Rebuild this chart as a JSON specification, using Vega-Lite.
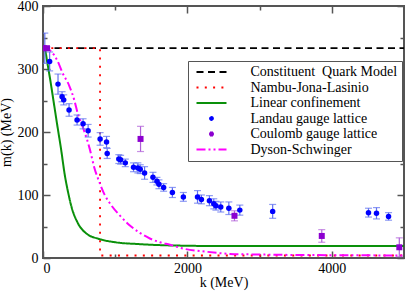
{
  "$schema": "https://vega.github.io/schema/vega-lite/v6.json",
  "width": 361,
  "height": 252,
  "autosize": {"type": "none"},
  "padding": {"left": 43, "top": 6, "right": 2, "bottom": 33},
  "background": "white",
  "datasets": {
    "steps": [
      {"series": "Constituent\u00a0 Quark Model", "k": 0, "m": 333, "i": 0},
      {"series": "Constituent\u00a0 Quark Model", "k": 5000, "m": 333, "i": 1},
      {"series": "Nambu-Jona-Lasinio", "k": 0, "m": 333, "i": 0},
      {"series": "Nambu-Jona-Lasinio", "k": 790, "m": 333, "i": 1},
      {"series": "Nambu-Jona-Lasinio", "k": 790, "m": 4, "i": 2},
      {"series": "Nambu-Jona-Lasinio", "k": 5000, "m": 4, "i": 3}
    ],
    "curves": [
      {"series": "Linear confinement", "k": 0, "m": 335},
      {"series": "Linear confinement", "k": 30, "m": 330},
      {"series": "Linear confinement", "k": 60, "m": 310},
      {"series": "Linear confinement", "k": 100, "m": 283},
      {"series": "Linear confinement", "k": 150, "m": 246},
      {"series": "Linear confinement", "k": 200, "m": 209},
      {"series": "Linear confinement", "k": 250, "m": 173},
      {"series": "Linear confinement", "k": 300, "m": 133},
      {"series": "Linear confinement", "k": 350, "m": 103},
      {"series": "Linear confinement", "k": 400, "m": 79},
      {"series": "Linear confinement", "k": 480, "m": 56},
      {"series": "Linear confinement", "k": 600, "m": 39},
      {"series": "Linear confinement", "k": 785, "m": 30},
      {"series": "Linear confinement", "k": 1000, "m": 25},
      {"series": "Linear confinement", "k": 1340, "m": 22},
      {"series": "Linear confinement", "k": 1750, "m": 20},
      {"series": "Linear confinement", "k": 2500, "m": 19},
      {"series": "Linear confinement", "k": 5000, "m": 19},
      {"series": "Dyson-Schwinger", "k": 0, "m": 333},
      {"series": "Dyson-Schwinger", "k": 60, "m": 332},
      {"series": "Dyson-Schwinger", "k": 120, "m": 327},
      {"series": "Dyson-Schwinger", "k": 200, "m": 313},
      {"series": "Dyson-Schwinger", "k": 270, "m": 294},
      {"series": "Dyson-Schwinger", "k": 365, "m": 273},
      {"series": "Dyson-Schwinger", "k": 435, "m": 250},
      {"series": "Dyson-Schwinger", "k": 480, "m": 230},
      {"series": "Dyson-Schwinger", "k": 560, "m": 205},
      {"series": "Dyson-Schwinger", "k": 610, "m": 188},
      {"series": "Dyson-Schwinger", "k": 650, "m": 172},
      {"series": "Dyson-Schwinger", "k": 712, "m": 143},
      {"series": "Dyson-Schwinger", "k": 782, "m": 120},
      {"series": "Dyson-Schwinger", "k": 851, "m": 101},
      {"series": "Dyson-Schwinger", "k": 944, "m": 84},
      {"series": "Dyson-Schwinger", "k": 1060, "m": 68},
      {"series": "Dyson-Schwinger", "k": 1199, "m": 52},
      {"series": "Dyson-Schwinger", "k": 1340, "m": 40},
      {"series": "Dyson-Schwinger", "k": 1480, "m": 31},
      {"series": "Dyson-Schwinger", "k": 1620, "m": 25},
      {"series": "Dyson-Schwinger", "k": 1760, "m": 21},
      {"series": "Dyson-Schwinger", "k": 1940, "m": 15},
      {"series": "Dyson-Schwinger", "k": 2260, "m": 10},
      {"series": "Dyson-Schwinger", "k": 2590, "m": 6.5},
      {"series": "Dyson-Schwinger", "k": 3000, "m": 5.5},
      {"series": "Dyson-Schwinger", "k": 4000, "m": 4.5},
      {"series": "Dyson-Schwinger", "k": 5000, "m": 4}
    ],
    "landau": [
      {"series": "Landau gauge lattice", "k": 25, "m": 333, "err": 24},
      {"series": "Landau gauge lattice", "k": 92, "m": 312, "err": 15},
      {"series": "Landau gauge lattice", "k": 208, "m": 276, "err": 16},
      {"series": "Landau gauge lattice", "k": 264, "m": 256, "err": 8},
      {"series": "Landau gauge lattice", "k": 287, "m": 251, "err": 8},
      {"series": "Landau gauge lattice", "k": 361, "m": 235, "err": 10},
      {"series": "Landau gauge lattice", "k": 472, "m": 219, "err": 8},
      {"series": "Landau gauge lattice", "k": 555, "m": 213, "err": 8},
      {"series": "Landau gauge lattice", "k": 625, "m": 202, "err": 10},
      {"series": "Landau gauge lattice", "k": 791, "m": 189, "err": 10},
      {"series": "Landau gauge lattice", "k": 880, "m": 184, "err": 9},
      {"series": "Landau gauge lattice", "k": 889, "m": 166, "err": 8},
      {"series": "Landau gauge lattice", "k": 1050, "m": 157, "err": 7},
      {"series": "Landau gauge lattice", "k": 1075, "m": 156, "err": 7},
      {"series": "Landau gauge lattice", "k": 1140, "m": 151, "err": 6},
      {"series": "Landau gauge lattice", "k": 1254, "m": 144, "err": 7},
      {"series": "Landau gauge lattice", "k": 1314, "m": 143, "err": 8},
      {"series": "Landau gauge lattice", "k": 1347, "m": 141, "err": 7},
      {"series": "Landau gauge lattice", "k": 1407, "m": 135, "err": 10},
      {"series": "Landau gauge lattice", "k": 1523, "m": 128, "err": 8},
      {"series": "Landau gauge lattice", "k": 1578, "m": 122, "err": 6},
      {"series": "Landau gauge lattice", "k": 1606, "m": 117, "err": 7},
      {"series": "Landau gauge lattice", "k": 1671, "m": 112, "err": 6},
      {"series": "Landau gauge lattice", "k": 1792, "m": 104, "err": 8},
      {"series": "Landau gauge lattice", "k": 1944, "m": 97, "err": 7},
      {"series": "Landau gauge lattice", "k": 2140, "m": 97, "err": 10},
      {"series": "Landau gauge lattice", "k": 2194, "m": 93, "err": 7},
      {"series": "Landau gauge lattice", "k": 2305, "m": 91, "err": 8},
      {"series": "Landau gauge lattice", "k": 2365, "m": 86, "err": 8},
      {"series": "Landau gauge lattice", "k": 2395, "m": 83, "err": 7},
      {"series": "Landau gauge lattice", "k": 2462, "m": 81, "err": 8},
      {"series": "Landau gauge lattice", "k": 2574, "m": 79, "err": 10},
      {"series": "Landau gauge lattice", "k": 2726, "m": 76, "err": 8},
      {"series": "Landau gauge lattice", "k": 3181, "m": 74, "err": 11},
      {"series": "Landau gauge lattice", "k": 4508, "m": 72, "err": 7},
      {"series": "Landau gauge lattice", "k": 4619, "m": 71, "err": 9},
      {"series": "Landau gauge lattice", "k": 4786, "m": 66, "err": 6}
    ],
    "coulomb": [
      {"series": "Coulomb gauge lattice", "k": 10, "m": 333, "err": 2},
      {"series": "Coulomb gauge lattice", "k": 55, "m": 333, "err": 2},
      {"series": "Coulomb gauge lattice", "k": 1351, "m": 189, "err": 20},
      {"series": "Coulomb gauge lattice", "k": 2652, "m": 67, "err": 8},
      {"series": "Coulomb gauge lattice", "k": 3861, "m": 35, "err": 10},
      {"series": "Coulomb gauge lattice", "k": 4935, "m": 17, "err": 15}
    ]
  },
  "config": {
    "font": "Liberation Serif, serif",
    "view": {"stroke": "#555555", "strokeWidth": 2},
    "axis": {
      "grid": false, "domain": false,
      "labelFont": "Liberation Serif, serif", "labelFontSize": 14, "labelColor": "#000000",
      "titleFont": "Liberation Serif, serif", "titleFontSize": 14, "titleFontWeight": "normal", "titleColor": "#000000",
      "tickColor": "#555555", "tickWidth": 1.5
    },
    "legend": {
      "labelFont": "Liberation Serif, serif", "labelFontSize": 14, "labelColor": "#000000"
    }
  },
  "resolve": {"axis": {"x": "independent", "y": "independent"}},
  "layer": [
    {
      "data": {"name": "steps"},
      "mark": {"type": "line", "strokeWidth": 1.8, "clip": true},
      "encoding": {
        "x": {"field": "k", "type": "quantitative", "scale": {"domain": [0, 5000], "nice": false},
              "axis": {"orient": "bottom", "values": [0, 2000, 4000], "format": "d", "tickSize": -7, "labelPadding": 10, "title": "k (MeV)", "titlePadding": 0}},
        "y": {"field": "m", "type": "quantitative", "scale": {"domain": [0, 400], "nice": false},
              "axis": {"orient": "left", "values": [0, 100, 200, 300, 400], "format": "d", "tickSize": -7, "labelPadding": 12, "title": "m(k) (MeV)", "titlePadding": 4}},
        "color": {"field": "series", "type": "nominal",
                  "scale": {"domain": ["Constituent\u00a0 Quark Model", "Nambu-Jona-Lasinio", "Linear confinement", "Landau gauge lattice", "Coulomb gauge lattice", "Dyson-Schwinger"],
                            "range": ["#000000", "#ff0000", "#0a900a", "#0000ff", "#8c00d0", "#ff00ff"]},
                  "legend": {"title": null, "orient": "none", "legendX": 145, "legendY": 55,
                             "strokeColor": "#555555", "fillColor": "#ffffff", "padding": 4, "rowPadding": 1.5,
                             "symbolOffset": 12.5, "labelOffset": 32,
                             "labelFont": "Liberation Serif, serif", "labelFontSize": 14,
                             "encode": {"symbols": {"update": {
                               "shape": {"scale": "shape", "field": "value"},
                               "stroke": {"scale": "color", "field": "value"},
                               "fill": {"scale": "color", "field": "value"},
                               "strokeDash": {"scale": "strokeDash", "field": "value"},
                               "strokeWidth": {"value": 1.8},
                               "size": {"value": 9},
                               "opacity": {"value": 1}}}}}},
        "strokeDash": {"field": "series", "type": "nominal",
                       "scale": {"domain": ["Constituent\u00a0 Quark Model", "Nambu-Jona-Lasinio", "Linear confinement", "Landau gauge lattice", "Coulomb gauge lattice", "Dyson-Schwinger"],
                                 "range": [[7, 4.5], [2, 6.3], [1, 0], [1, 0], [1, 0], [9, 3, 2, 3, 2, 3]]},
                       "legend": null},
        "order": {"field": "i", "type": "quantitative"}
      }
    },
    {
      "data": {"name": "curves"},
      "mark": {"type": "line", "strokeWidth": 2, "clip": true, "interpolate": "monotone"},
      "encoding": {
        "x": {"field": "k", "type": "quantitative", "scale": {"domain": [0, 5000], "nice": false},
              "axis": {"orient": "bottom", "values": [1000, 3000], "tickSize": -4, "labels": false, "title": null}},
        "y": {"field": "m", "type": "quantitative", "scale": {"domain": [0, 400], "nice": false},
              "axis": {"orient": "left", "values": [50, 150, 250, 350], "tickSize": -4, "labels": false, "title": null}},
        "color": {"field": "series", "type": "nominal", "legend": null},
        "strokeDash": {"field": "series", "type": "nominal", "legend": null}
      }
    },
    {
      "data": {"name": "landau"},
      "mark": {"type": "errorbar", "ticks": true, "size": 7, "thickness": 1.2, "color": "#6070f0", "clip": true},
      "encoding": {
        "x": {"field": "k", "type": "quantitative", "axis": null},
        "y": {"field": "m", "type": "quantitative", "axis": null},
        "yError": {"field": "err"}
      }
    },
    {
      "data": {"name": "coulomb"},
      "mark": {"type": "errorbar", "ticks": true, "size": 7, "thickness": 1.2, "color": "#b060d8", "clip": true},
      "encoding": {
        "x": {"field": "k", "type": "quantitative", "axis": null},
        "y": {"field": "m", "type": "quantitative", "axis": null},
        "yError": {"field": "err"}
      }
    },
    {
      "data": {"name": "landau"},
      "mark": {"type": "point", "filled": true, "opacity": 1, "size": 30, "clip": true},
      "encoding": {
        "x": {"field": "k", "type": "quantitative", "scale": {"domain": [0, 5000], "nice": false},
              "axis": {"orient": "top", "values": [0, 2000, 4000], "tickSize": -7, "labels": false, "title": null}},
        "y": {"field": "m", "type": "quantitative", "scale": {"domain": [0, 400], "nice": false},
              "axis": {"orient": "right", "values": [0, 100, 200, 300, 400], "tickSize": -7, "labels": false, "title": null}},
        "color": {"field": "series", "type": "nominal", "legend": null},
        "shape": {"field": "series", "type": "nominal",
                  "scale": {"domain": ["Constituent\u00a0 Quark Model", "Nambu-Jona-Lasinio", "Linear confinement", "Landau gauge lattice", "Coulomb gauge lattice", "Dyson-Schwinger"],
                            "range": ["M-10,0H10", "M-10,0H10", "M-10,0H10", "circle", "square", "M-10,0H10"]},
                  "legend": null}
      }
    },
    {
      "data": {"name": "coulomb"},
      "mark": {"type": "point", "filled": true, "opacity": 1, "size": 36, "clip": true},
      "encoding": {
        "x": {"field": "k", "type": "quantitative", "scale": {"domain": [0, 5000], "nice": false},
              "axis": {"orient": "top", "values": [1000, 3000], "tickSize": -4, "labels": false, "title": null}},
        "y": {"field": "m", "type": "quantitative", "scale": {"domain": [0, 400], "nice": false},
              "axis": {"orient": "right", "values": [50, 150, 250, 350], "tickSize": -4, "labels": false, "title": null}},
        "color": {"field": "series", "type": "nominal", "legend": null},
        "shape": {"field": "series", "type": "nominal", "legend": null}
      }
    }
  ]
}
